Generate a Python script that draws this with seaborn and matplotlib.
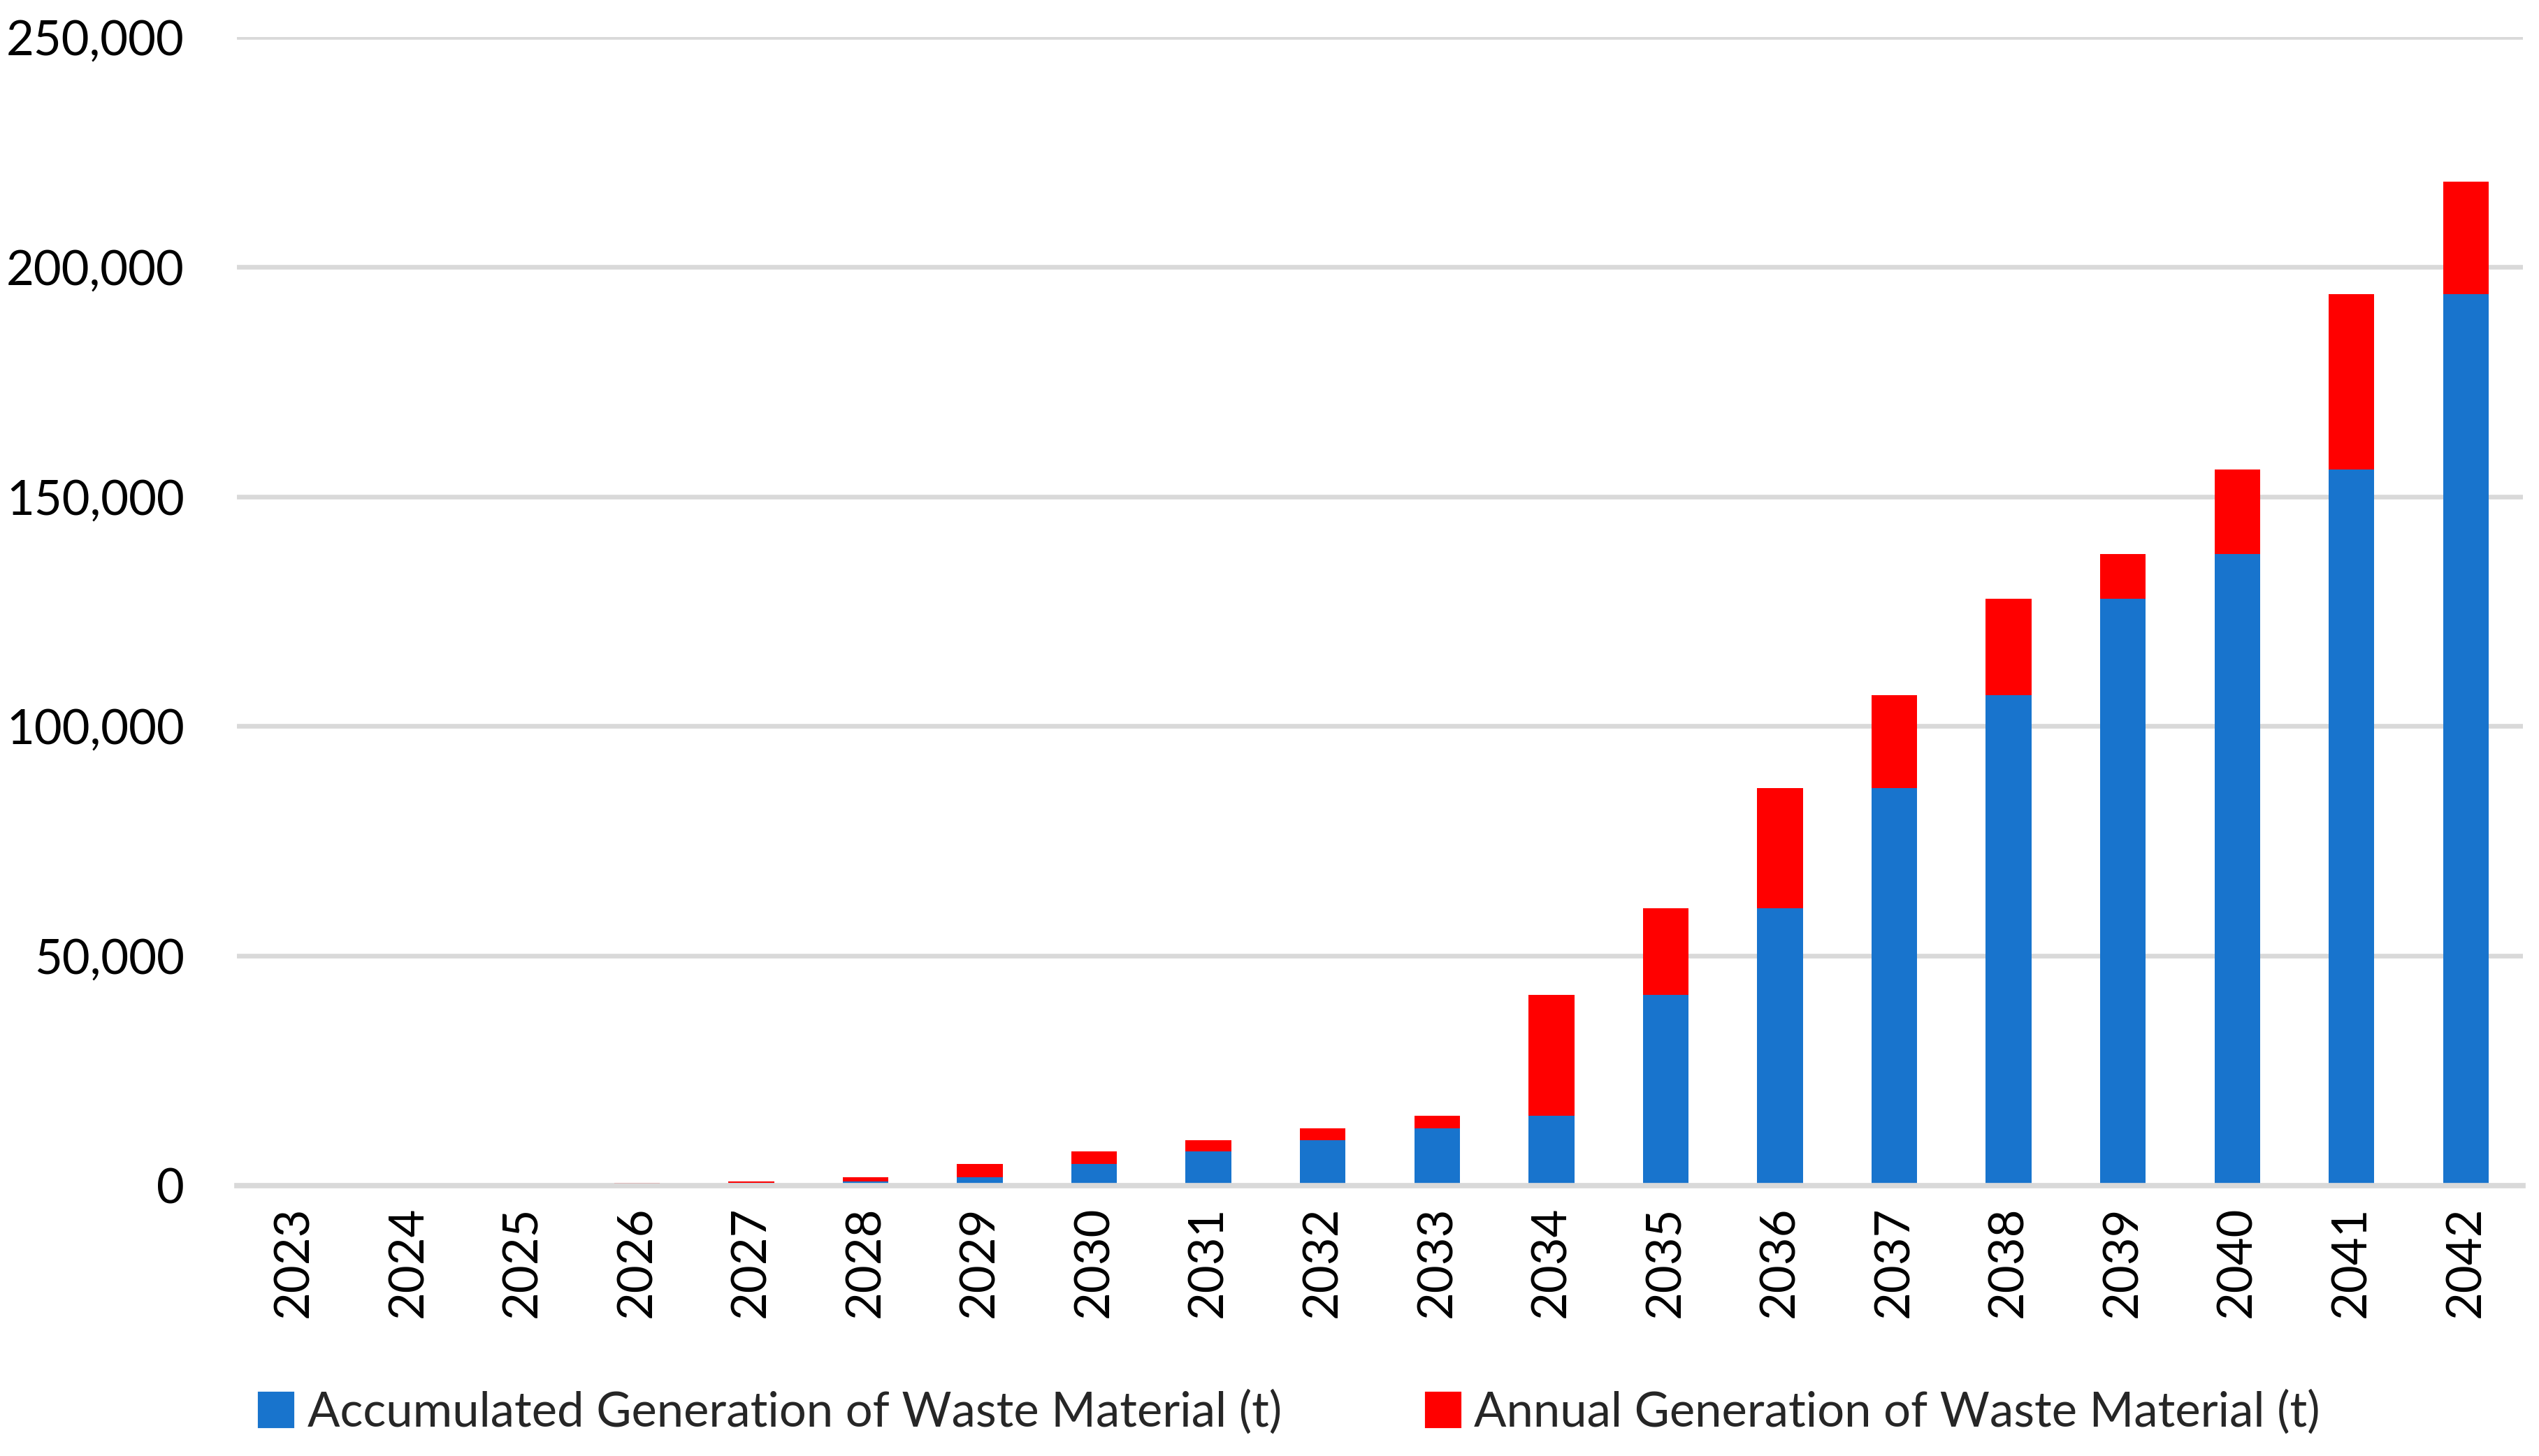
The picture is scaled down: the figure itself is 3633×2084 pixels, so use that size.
import matplotlib
matplotlib.use("Agg")
import matplotlib.pyplot as plt
import matplotlib.ticker as mticker
from matplotlib.patches import Patch
import seaborn as sns

years = [str(y) for y in range(2023, 2043)]

# cumulative total at end of each year (t)
total = [0, 0, 0, 600, 900, 1900, 4650, 7500, 9850, 12400, 15150,
         41500, 60300, 86500, 106700, 127700, 137500, 155800, 194000, 218500]
# accumulated up to the start of the year (t)
accumulated = [0, 0, 0, 0, 600, 900, 1900, 4650, 7500, 9850, 12400,
               15150, 41500, 60300, 86500, 106700, 127700, 137500, 155800, 194000]

label_acc = "Accumulated Generation of Waste Material (t)"
label_ann = "Annual Generation of Waste Material (t)"

blue = "#1874CD"
red = "#FF0000"
grid_c = "#D9D9D9"

sns.set_theme(style="white")
plt.rcParams["font.family"] = ["Lato", "DejaVu Sans"]

fig = plt.figure(figsize=(3633 / 300, 2084 / 300), dpi=300)
ax = fig.add_axes([0.0933, 0.1857, 0.9004, 0.7889])

# red = total height, blue drawn over it = accumulated part
sns.barplot(x=years, y=total, color=red, width=0.4, saturation=1,
            linewidth=0, ax=ax)
sns.barplot(x=years, y=accumulated, color=blue, width=0.4, saturation=1,
            linewidth=0, ax=ax)

ax.set_ylim(0, 250000)
ax.set_xlim(-0.5, len(years) - 0.5)
ax.yaxis.set_major_locator(mticker.MultipleLocator(50000))
ax.yaxis.set_major_formatter(mticker.FuncFormatter(lambda v, p: f"{int(v):,}"))
ax.set_axisbelow(True)
ax.yaxis.grid(True, color=grid_c, linewidth=1.6)
ax.xaxis.grid(False)

for s in ["top", "left", "right"]:
    ax.spines[s].set_visible(False)
ax.spines["bottom"].set_color(grid_c)
ax.spines["bottom"].set_linewidth(1.85)

ax.tick_params(axis="both", length=0, labelsize=16.5, colors="black")
ax.tick_params(axis="y", pad=18)
ax.tick_params(axis="x", pad=7)
plt.setp(ax.get_xticklabels(), rotation=90)
ax.set_xlabel("")
ax.set_ylabel("")

handles = [Patch(color=blue, label=label_acc), Patch(color=red, label=label_ann)]
fig.legend(handles=handles, loc="center", bbox_to_anchor=(0.508, 0.03), ncol=2,
           frameon=False, fontsize=16.5, handlelength=0.7, handleheight=0.7,
           handletextpad=0.3, columnspacing=3.0)

fig.savefig("out.png", dpi=300, facecolor="white")
